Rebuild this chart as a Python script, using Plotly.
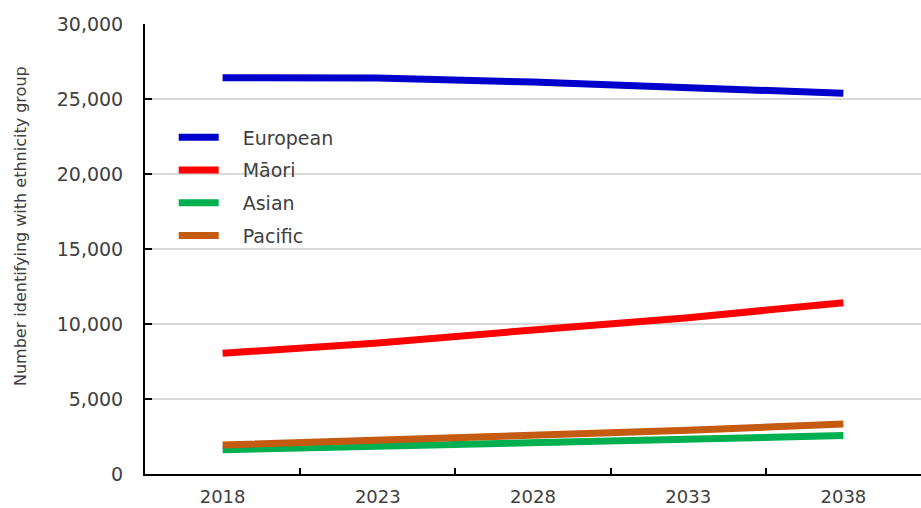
import plotly.graph_objects as go

# Projected population by ethnic group, five-yearly
years = [2018, 2023, 2028, 2033, 2038]
european = [26420, 26400, 26130, 25790, 25380]
maori = [8050, 8730, 9600, 10420, 11420]
asian = [1620, 1850, 2080, 2320, 2560]
pacific = [1930, 2230, 2560, 2920, 3330]

series_names = ["European", "M\u0101ori", "Asian", "Pacific"]
series_values = [european, maori, asian, pacific]
series_colors = ["#0000CC", "#FF0000", "#00B050", "#C55A11"]

year_ticks = years
between_ticks = [2020.5, 2025.5, 2030.5, 2035.5]
y_title = "Number identifying with ethnicity group"

FONT = "DejaVu Sans"
TEXT = "#404040"
LEGEND_GAP = "\u2002\u2002"  # extra room between legend swatch and label

fig = go.Figure()
for name, vals, col in zip(series_names, series_values, series_colors):
    fig.add_trace(go.Scatter(
        x=years, y=vals, name=LEGEND_GAP + name, mode="lines",
        line=dict(color=col, width=7),
        legendgroup=name,
    ))

fig.update_layout(
    width=921, height=508,
    margin=dict(l=145, r=0, t=24, b=34, autoexpand=False),
    paper_bgcolor="white", plot_bgcolor="white",
    font=dict(family=FONT, color=TEXT, size=18),
    showlegend=True,
    legend=dict(
        x=0.037, y=0.79, xanchor="left", yanchor="top",
        bgcolor="rgba(0,0,0,0)", font=dict(size=19, color=TEXT),
        tracegroupgap=5, itemwidth=40,
    ),
    annotations=[dict(
        text=y_title, textangle=-90, xref="paper", yref="paper",
        x=0, y=0.551, xanchor="center", yanchor="middle", xshift=-125,
        showarrow=False, font=dict(size=16, color=TEXT),
    )],
)

fig.update_xaxes(
    range=[2015.5, 2040.5],
    tickmode="array", tickvals=year_ticks, ticktext=[str(y) for y in year_ticks],
    ticks="", showgrid=False, zeroline=False,
    showline=True, linecolor="black", linewidth=2,
    tickfont=dict(size=18, color=TEXT),
    ticklabelstandoff=5,
    minor=dict(tickmode="array", tickvals=between_ticks, ticks="inside",
               ticklen=6, tickcolor="black", tickwidth=2, showgrid=False),
)

fig.update_yaxes(
    range=[0, 30000], tickmode="linear", tick0=0, dtick=5000,
    tickformat=",", ticks="inside", ticklen=7, tickcolor="black", tickwidth=2,
    showgrid=True, gridcolor="#D9D9D9", gridwidth=1.5, zeroline=False,
    showline=True, linecolor="black", linewidth=2,
    tickfont=dict(size=19, color=TEXT),
    ticklabelstandoff=16,
)

fig.write_html("out.html")
